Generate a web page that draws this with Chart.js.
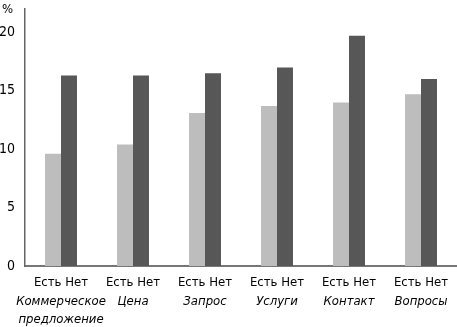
<!DOCTYPE html>
<html><head><meta charset="utf-8">
<style>html,body{margin:0;padding:0;background:#fff}#wrap{width:457px;height:327px}</style>
<script src="https://cdn.jsdelivr.net/npm/chart.js@4/dist/chart.umd.min.js"></script>
</head><body><div id="wrap"><canvas id="c" width="457" height="327"></canvas></div>
<script>
const categories = [['Коммерческое','предложение'],'Цена','Запрос','Услуги','Контакт','Вопросы'];
const subLabel = 'Есть Нет';
const seriesNames = ['Есть','Нет'];
const yesValues = [9.6, 10.4, 13.1, 13.7, 14.0, 14.7];
const noValues = [16.3, 16.3, 16.5, 17.0, 19.7, 16.0];
const yTicks = [0, 5, 10, 15, 20];
const unitLabel = '%';

const FONT = "'DejaVu Sans Condensed', 'Liberation Sans Narrow', 'Roboto', sans-serif";

const unitPlugin = {
  id: 'unit',
  afterDraw(chart) {
    const ctx = chart.ctx;
    ctx.save();
    ctx.font = '13px ' + FONT;
    ctx.fillStyle = '#000';
    ctx.textAlign = 'left';
    ctx.textBaseline = 'middle';
    ctx.fillText(unitLabel, 2, 10);
    ctx.restore();
  }
};

new Chart(document.getElementById('c'), {
  type: 'bar',
  data: {
    labels: categories,
    datasets: [
      { label: seriesNames[0], data: yesValues, backgroundColor: '#bdbdbd', borderWidth: 0 },
      { label: seriesNames[1], data: noValues, backgroundColor: '#575757', borderWidth: 0 }
    ]
  },
  options: {
    responsive: false,
    devicePixelRatio: 1,
    animation: false,
    layout: { padding: { top: 9, right: 0, left: 0, bottom: 0 } },
    categoryPercentage: 0.444,
    barPercentage: 1.0,
    plugins: { legend: { display: false }, tooltip: { enabled: false }, title: { display: false } },
    scales: {
      x: {
        type: 'category',
        position: 'bottom',
        weight: 0,
        offset: true,
        grid: { display: false, drawTicks: false },
        border: { display: true, color: '#777', width: 2 },
        ticks: {
          callback: () => subLabel,
          font: { family: FONT, size: 13 },
          color: '#000',
          padding: 9,
          maxRotation: 0,
          autoSkip: false
        },
        afterFit: s => { s.height = 24; s.paddingLeft = 0; s.paddingRight = 0; }
      },
      x2: {
        type: 'category',
        position: 'bottom',
        weight: 1,
        offset: true,
        grid: { display: false, drawTicks: false },
        border: { display: false },
        ticks: {
          font: { family: FONT, size: 13, style: 'italic', lineHeight: '18px' },
          color: '#000',
          padding: 3,
          maxRotation: 0,
          autoSkip: false
        },
        afterFit: s => { s.height = 37; s.paddingLeft = 0; s.paddingRight = 0; }
      },
      y: {
        min: 0,
        max: 22,
        grid: { display: false, drawTicks: false },
        border: { display: true, color: '#666', width: 1.5 },
        ticks: {
          font: { family: FONT, size: 14 },
          color: '#000',
          padding: 10
        },
        afterBuildTicks: s => { s.ticks = yTicks.map(v => ({ value: v })); },
        afterFit: s => { s.width = 25; s.paddingTop = 0; s.paddingBottom = 0; }
      }
    }
  },
  plugins: [unitPlugin]
});
</script>
</body></html>
